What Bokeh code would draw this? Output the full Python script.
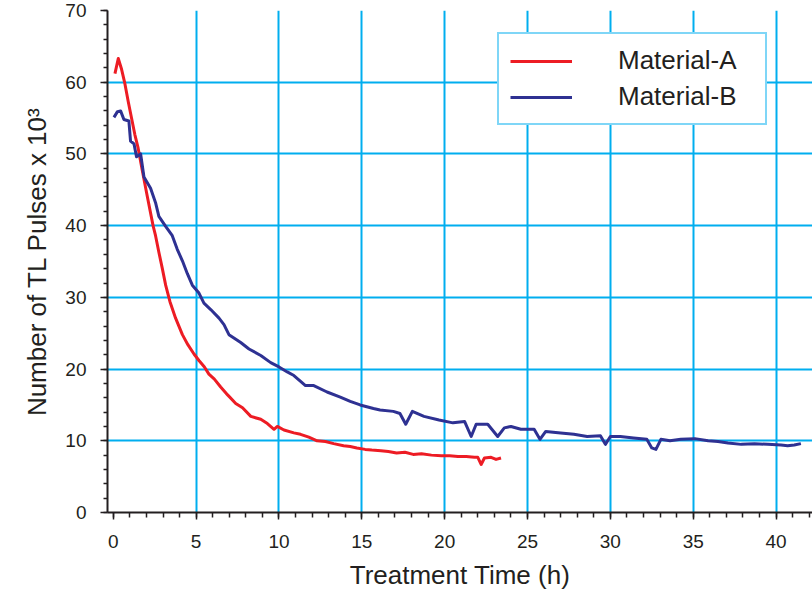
from bokeh.plotting import figure
from bokeh.models import Range1d, FixedTicker, Legend, LegendItem
from bokeh.embed import file_html
from bokeh.resources import INLINE

# Material-A (red)
time_a = [0.1, 0.3, 0.5, 0.7, 0.9, 1.1, 1.3, 1.5, 1.75, 2.05, 2.4, 2.55, 2.75, 2.96,
          3.16, 3.42, 3.76, 4.17, 4.5, 4.87, 5.17, 5.5, 5.77, 6.1, 6.48, 6.9, 7.39,
          7.8, 8.3, 8.9, 9.3, 9.7, 9.9, 10.3, 10.9, 11.3, 11.8, 12.3, 12.8, 13.3,
          13.9, 14.3, 14.7, 15.2, 15.6, 16.15, 16.6, 17.1, 17.6, 18.1, 18.6, 19.2,
          19.8, 20.3, 20.8, 21.3, 21.8, 22.0, 22.2, 22.4, 22.8, 23.1, 23.4]
pulses_a = [61.2, 63.3, 61.8, 59.8, 57.3, 55.0, 52.7, 50.8, 47.7, 44.1, 40.0, 38.6,
            36.3, 34.0, 31.7, 29.4, 27.1, 24.8, 23.4, 22.1, 21.2, 20.3, 19.3, 18.6,
            17.5, 16.4, 15.2, 14.6, 13.4, 13.0, 12.4, 11.6, 12.0, 11.5, 11.1, 10.9,
            10.5, 10.0, 9.9, 9.6, 9.3, 9.2, 9.0, 8.8, 8.7, 8.6, 8.5, 8.3, 8.4, 8.1,
            8.2, 8.0, 7.9, 7.9, 7.8, 7.8, 7.7, 7.7, 6.7, 7.6, 7.7, 7.4, 7.6]

# Material-B (blue)
time_b = [0.04, 0.25, 0.44, 0.64, 0.94, 1.04, 1.25, 1.4, 1.65, 1.85, 2.25, 2.55, 2.75,
          3.16, 3.56, 3.86, 4.17, 4.47, 4.77, 5.17, 5.47, 5.88, 6.38, 6.68, 6.98,
          7.69, 8.19, 8.9, 9.5, 10.0, 10.5, 10.9, 11.6, 12.1, 12.9, 13.7, 14.3,
          14.9, 15.7, 16.1, 16.9, 17.3, 17.65, 18.05, 18.75, 19.66, 20.5, 21.2,
          21.6, 21.9, 22.6, 23.2, 23.6, 24.0, 24.6, 25.4, 25.75, 26.1, 27.0, 27.8,
          28.6, 29.4, 29.7, 30.0, 30.6, 31.4, 32.2, 32.5, 32.75, 33.05, 33.6, 34.25,
          35.1, 35.9, 36.5, 37.1, 37.9, 38.7, 39.5, 40.3, 40.7, 41.1, 41.5]
pulses_b = [55.1, 55.9, 56.0, 54.8, 54.6, 51.8, 51.4, 49.6, 50.0, 46.8, 45.2, 43.2,
            41.3, 39.9, 38.6, 36.7, 35.1, 33.3, 31.7, 30.6, 29.2, 28.3, 27.1, 26.2,
            24.8, 23.7, 22.8, 21.9, 20.9, 20.3, 19.6, 19.1, 17.7, 17.7, 16.8, 16.1,
            15.5, 15.0, 14.5, 14.3, 14.1, 13.8, 12.3, 14.1, 13.4, 12.9, 12.5, 12.7,
            10.6, 12.3, 12.3, 10.6, 11.8, 12.0, 11.6, 11.6, 10.2, 11.3, 11.1, 10.9,
            10.6, 10.7, 9.5, 10.6, 10.6, 10.4, 10.2, 9.0, 8.8, 10.2, 10.0, 10.2, 10.3,
            10.0, 9.9, 9.7, 9.5, 9.6, 9.5, 9.4, 9.3, 9.4, 9.6]

x_major = [0, 5, 10, 15, 20, 25, 30, 35, 40]
y_major = [0, 10, 20, 30, 40, 50, 60, 70]
x_grid = [5, 10, 15, 20, 25, 30, 35, 40]
y_grid = [10, 20, 30, 40, 50, 60]

FONT = "Liberation Sans"
TXT = "#231F20"
GRID = "#00AEEF"
RED = "#ED1C24"
BLUE = "#2E3192"

p = figure(width=812, height=592, output_backend="svg", toolbar_location=None,
           x_range=Range1d(-0.35, 42.2), y_range=Range1d(0, 70),
           min_border_left=107, min_border_right=0, min_border_top=10,
           min_border_bottom=80)
p.outline_line_color = None
p.background_fill_color = "white"
p.border_fill_color = "white"

# grid
p.xgrid.ticker = FixedTicker(ticks=x_grid)
p.ygrid.ticker = FixedTicker(ticks=y_grid)
for g in (p.xgrid, p.ygrid):
    g.grid_line_color = GRID
    g.grid_line_width = 2

# axes
p.xaxis.ticker = FixedTicker(ticks=x_major, minor_ticks=list(range(0, 43)))
p.yaxis.ticker = FixedTicker(ticks=y_major, minor_ticks=list(range(0, 71, 2)))
for ax in (p.xaxis, p.yaxis):
    ax.axis_line_color = TXT
    ax.axis_line_width = 2
    ax.major_tick_line_color = TXT
    ax.major_tick_line_width = 1.5
    ax.minor_tick_line_color = TXT
    ax.minor_tick_line_width = 1.5
    ax.major_tick_in = 0
    ax.major_tick_out = 7
    ax.minor_tick_in = 0
    ax.major_label_text_font = FONT
    ax.major_label_text_font_size = "19px"
    ax.major_label_text_color = TXT
    ax.axis_label_text_font = FONT
    ax.axis_label_text_font_size = "26px"
    ax.axis_label_text_font_style = "normal"
    ax.axis_label_text_color = TXT
p.xaxis.minor_tick_out = 5
p.yaxis.minor_tick_out = 4
p.xaxis.major_label_standoff = 15
p.yaxis.major_label_standoff = 14
p.xaxis.axis_label = "Treatment Time (h)"
p.yaxis.axis_label = "Number of TL Pulses x 10\u00b3"
p.xaxis.axis_label_standoff = 9
p.yaxis.axis_label_standoff = 10

ra = p.line(time_a, pulses_a, line_color=RED, line_width=3, line_join="round")
rb = p.line(time_b, pulses_b, line_color=BLUE, line_width=3, line_join="round")

legend = Legend(items=[LegendItem(label="Material-A", renderers=[ra]),
                       LegendItem(label="Material-B", renderers=[rb])],
                location=(390, 387))
legend.border_line_color = GRID
legend.border_line_width = 2
legend.background_fill_color = "white"
legend.background_fill_alpha = 1
legend.label_text_font = FONT
legend.label_text_font_size = "26px"
legend.label_text_color = TXT
legend.padding = 11
legend.spacing = 5
legend.glyph_width = 62
legend.glyph_height = 26
legend.label_height = 26
legend.label_standoff = 46
legend.label_width = 136
legend.margin = 0
p.add_layout(legend)

open("out.html", "w").write(file_html(p, INLINE))
